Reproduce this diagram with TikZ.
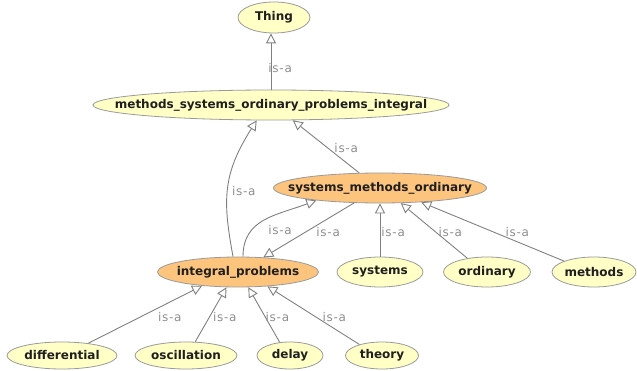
\documentclass[tikz,border=0pt]{standalone}
\usepackage{fontspec}
\setmainfont{DejaVu Sans}
\newfontfamily\isafont[LetterSpace=6]{DejaVu Sans}
\usetikzlibrary{arrows.meta,shapes.geometric}

\definecolor{classyellow}{HTML}{FFFFC6}
\definecolor{classorange}{HTML}{FDC47E}
\definecolor{classborder}{HTML}{9A9A9A}
\definecolor{edgegray}{HTML}{808080}
\definecolor{isagray}{HTML}{8E8E8E}

\tikzset{
	owlclass/.style={shape=ellipse, draw=classborder, fill=classyellow, line width=0.8pt, inner xsep=-60pt, inner ysep=0pt, minimum height=30pt, text=black!88, font=\bfseries\fontsize{12}{14}\selectfont},
	focusclass/.style={owlclass, fill=classorange},
	isa/.style={draw=edgegray, line width=0.9pt, -{Triangle[length=10pt, width=10pt, fill=white]}},
	isalabel/.style={anchor=west, inner sep=0pt, text=isagray, font=\isafont\fontsize{12}{14}\selectfont}
}

\begin{document}
\begin{tikzpicture}[x=1pt, y=1pt]
	\useasboundingbox (0,0) rectangle (637,370);
	% Classes:
	\node[owlclass, minimum width=72pt, minimum height=31pt] (thing) at (274, 352.5){Thing};
	\node[owlclass, minimum width=356pt] (msopi) at (271, 265){methods\_systems\_ordinary\_problems\_integral};
	\node[focusclass, minimum width=213pt] (smo) at (380, 182){systems\_methods\_ordinary};
	\node[focusclass, minimum width=161pt] (ip) at (238, 98){integral\_problems};
	\node[owlclass, minimum width=86pt] (systems) at (380, 98){systems};
	\node[owlclass, minimum width=87pt] (ordinary) at (487, 98){ordinary};
	\node[owlclass, minimum width=84pt] (methods) at (594, 98){methods};
	\node[owlclass, minimum width=110pt, minimum height=27pt] (differential) at (62, 14.5){differential};
	\node[owlclass, minimum width=102pt, minimum height=27pt] (oscillation) at (186, 14.5){oscillation};
	\node[owlclass, minimum width=66pt, minimum height=27pt] (delay) at (290, 14.5){delay};
	\node[owlclass, minimum width=73pt, minimum height=27pt] (theory) at (382, 14.5){theory};
	% is-a links:
	\draw[isa] (msopi.north) -- (msopi.north |- thing.south) node[isalabel, pos=0.39, xshift=-3pt]{is-a};
	\draw[isa] (ip.108) .. controls +(-10,55) and +(-35,-55) .. (msopi.227) node[isalabel, pos=0.48, xshift=4pt]{is-a};
	\draw[isa] (smo.144) -- (msopi.325) node[isalabel, pos=0.47, xshift=6pt]{is-a};
	\draw[isa] (ip.72) .. controls +(0,38) and +(-40,-15) .. (smo.191) node[isalabel, pos=0.31, xshift=16pt]{is-a};
	\draw[isa] (smo.210) -- (ip.30) node[isalabel, pos=0.53, xshift=10pt]{is-a};
	\draw[isa] (systems.north) -- (smo.south) node[isalabel, pos=0.46, xshift=1pt]{is-a};
	\draw[isa] (ordinary.145) -- (smo.324) node[isalabel, pos=0.47, xshift=2pt]{is-a};
	\draw[isa] (methods.160) -- (smo.341) node[isalabel, pos=0.49, xshift=11pt]{is-a};
	\draw[isa] (differential.25) -- (ip.201) node[isalabel, pos=0.46, xshift=17pt]{is-a};
	\draw[isa] (oscillation.56) -- (ip.233) node[isalabel, pos=0.46, xshift=3pt]{is-a};
	\draw[isa] (delay.128) -- (ip.304) node[isalabel, pos=0.46, xshift=0pt]{is-a};
	\draw[isa] (theory.154) -- (ip.334) node[isalabel, pos=0.47, xshift=6pt]{is-a};
\end{tikzpicture}
\end{document}
